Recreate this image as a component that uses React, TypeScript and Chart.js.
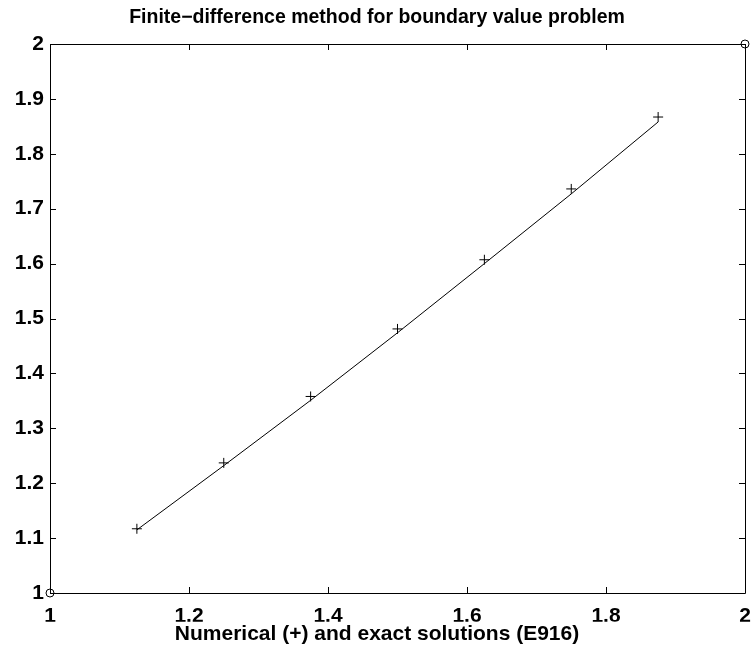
import React, { useEffect, useRef } from "react";
import { Chart, registerables } from "chart.js";

Chart.register(...registerables);

const xNodes = [1.125, 1.25, 1.375, 1.5, 1.625, 1.75, 1.875];
const numerical = [1.117, 1.237, 1.358, 1.481, 1.607, 1.736, 1.867];
const exact = [1.115, 1.232, 1.351, 1.474, 1.6, 1.727, 1.858];
const boundaryX = [1, 2];
const boundaryY = [1, 2];

const titleText = "Finite\u2212difference method for boundary value problem";
const xTitle = "Numerical (+) and exact solutions (E916)";
const FONT = "'Liberation Sans', Arial, Helvetica, sans-serif";

const framePlugin = {
  id: "frame",
  afterDraw(chart: any) {
    const { ctx, chartArea: a, scales } = chart;
    const xs = scales.x;
    const ys = scales.y;
    ctx.save();
    ctx.strokeStyle = "#000";
    ctx.lineWidth = 1;
    ctx.beginPath();
    ctx.rect(Math.round(a.left) + 0.5, Math.round(a.top) + 0.5, Math.round(a.right - a.left), Math.round(a.bottom - a.top));
    ctx.stroke();
    const L = 6;
    ctx.beginPath();
    xs.ticks.forEach((t: any) => {
      const px = Math.round(xs.getPixelForValue(t.value)) + 0.5;
      ctx.moveTo(px, a.bottom);
      ctx.lineTo(px, a.bottom - L);
      ctx.moveTo(px, a.top);
      ctx.lineTo(px, a.top + L);
    });
    ys.ticks.forEach((t: any) => {
      const py = Math.round(ys.getPixelForValue(t.value)) + 0.5;
      ctx.moveTo(a.left, py);
      ctx.lineTo(a.left + L, py);
      ctx.moveTo(a.right, py);
      ctx.lineTo(a.right - L, py);
    });
    ctx.stroke();
    ctx.restore();
  },
};

export default function App() {
  const ref = useRef<HTMLCanvasElement | null>(null);
  useEffect(() => {
    if (!ref.current) return;
    const chart = new Chart(ref.current, {
      type: "scatter",
      data: {
        datasets: [
          {
            label: "exact",
            data: xNodes.map((x, i) => ({ x, y: exact[i] })),
            showLine: true,
            borderColor: "#000",
            borderWidth: 1,
            pointRadius: 0,
            fill: false,
          },
          {
            label: "numerical",
            data: xNodes.map((x, i) => ({ x, y: numerical[i] })),
            showLine: false,
            pointStyle: "cross",
            pointRadius: 5,
            borderColor: "#000",
            borderWidth: 1,
            backgroundColor: "#000",
          },
          {
            label: "boundary",
            data: boundaryX.map((x, i) => ({ x, y: boundaryY[i] })),
            showLine: false,
            pointStyle: "circle",
            pointRadius: 4,
            borderColor: "#000",
            borderWidth: 1,
            backgroundColor: "rgba(0,0,0,0)",
            clip: false as any,
          },
        ],
      },
      options: {
        responsive: false,
        animation: false,
        layout: { padding: 0 },
        plugins: {
          legend: { display: false },
          tooltip: { enabled: false },
          title: {
            display: true,
            text: titleText,
            color: "#000",
            font: { family: FONT, size: 19.5, weight: "bold", lineHeight: 1.2 },
            padding: { top: 6, bottom: 14.6 },
          },
          subtitle: {
            display: true,
            position: "bottom",
            text: xTitle,
            color: "#000",
            font: { family: FONT, size: 21, weight: "bold", lineHeight: 1.2 },
            padding: { top: 0, bottom: 9 },
          },
        },
        scales: {
          x: {
            type: "linear",
            min: 1,
            max: 2,
            grid: { display: false, drawTicks: false },
            border: { display: false },
            ticks: {
              stepSize: 0.2,
              color: "#000",
              padding: 11,
              font: { family: FONT, size: 21, weight: "bold", lineHeight: 1.2 },
              callback: (v: any) => String(Math.round(Number(v) * 10) / 10),
            },
            afterFit: (s: any) => {
              s.height = 28.8;
              s.paddingLeft = 0;
              s.paddingRight = 9;
            },
          },
          y: {
            type: "linear",
            min: 1,
            max: 2,
            grid: { display: false, drawTicks: false },
            border: { display: false },
            ticks: {
              stepSize: 0.1,
              color: "#000",
              padding: 6,
              font: { family: FONT, size: 21, weight: "bold", lineHeight: 1.2 },
              callback: (v: any) => String(Math.round(Number(v) * 10) / 10),
            },
            afterFit: (s: any) => {
              s.width = 50;
              s.paddingTop = 0;
              s.paddingBottom = 0;
            },
          },
        },
      },
      plugins: [framePlugin],
    });
    return () => chart.destroy();
  }, []);
  return (
    <div style={{ position: "absolute", left: 0, top: 0, width: 754, height: 656, background: "#fff" }}>
      <canvas ref={ref} width={754} height={656} style={{ display: "block" }} />
    </div>
  );
}
